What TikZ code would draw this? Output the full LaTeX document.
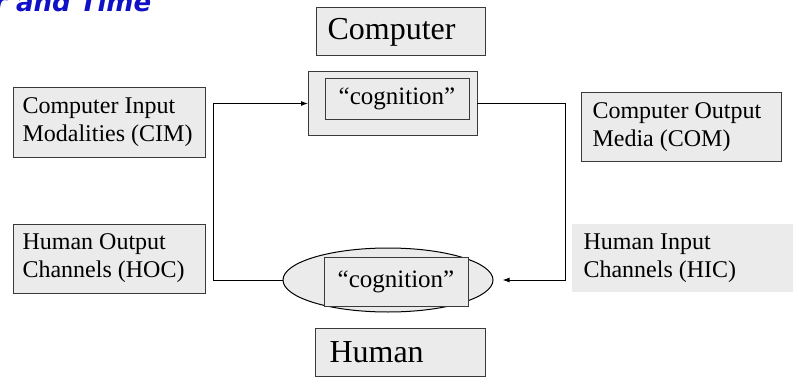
\documentclass[tikz,border=0pt]{standalone}
\usepackage{fontspec}
\setmainfont{Liberation Serif}
\newfontfamily\titlefont{DejaVu Sans}
\usetikzlibrary{arrows.meta}
\usetikzlibrary{shapes.geometric}
\definecolor{boxgray}{HTML}{EBEBEB}
\definecolor{edgegray}{HTML}{3A3A3A}
\definecolor{titleblue}{HTML}{1010C8}

\begin{document}
\begin{tikzpicture}[x=1pt, y=-1pt,
		greybox/.style={draw=edgegray, line width=1pt, fill=boxgray, inner sep=0pt, outer sep=0pt},
		sidetext/.style={font=\fontsize{24}{28}\selectfont, align=left},
		bigtext/.style={font=\fontsize{32}{36}\selectfont},
		cogtext/.style={font=\fontsize{25}{28}\selectfont},
		arr/.style={-{Latex[length=7pt,width=5pt]}, line width=1pt}]
			\useasboundingbox (0,0) rectangle (794,377);
			% cut-off slide title
			\node [anchor=base west, inner sep=0pt, text=titleblue, font=\titlefont\bfseries\itshape\fontsize{26}{30}\selectfont] (title) at (-6, 12) {r and Time};
			% computer side
			\node [greybox, minimum width=169, minimum height=48] (computer) at (400.5, 32) {};
			\node [bigtext, anchor=west] (computertxt) at (324, 32) {Computer};
			\node [greybox, minimum width=169, minimum height=63] (compmind) at (392.5, 103.5) {};
			\node [greybox, minimum width=144, minimum height=40, cogtext] (compcog) at (397, 99) {``cognition''};
			% human side
			\node [ellipse, draw=black, line width=1pt, fill=boxgray, minimum width=210, minimum height=64, inner sep=0pt] (humanmind) at (388, 280) {};
			\node [greybox, minimum width=144, minimum height=49, cogtext] (humancog) at (396, 281.5) {``cognition''};
			\node [greybox, minimum width=170, minimum height=48] (human) at (400, 352) {};
			\node [bigtext, anchor=west] (humantxt) at (326, 352) {Human};
			% side boxes
			\node [greybox, minimum width=192, minimum height=69] (cim) at (109, 122.5) {};
			\node [sidetext, anchor=west] (cimtxt) at (19, 122.5) {Computer Input\\Modalities (CIM)};
			\node [greybox, minimum width=192, minimum height=69] (hoc) at (109, 258.5) {};
			\node [sidetext, anchor=west] (hoctxt) at (19, 258.5) {Human Output\\Channels (HOC)};
			\node [greybox, minimum width=200, minimum height=68] (com) at (681, 127) {};
			\node [sidetext, anchor=west] (comtxt) at (589, 127) {Computer Output\\Media (COM)};
			\node [greybox, draw=none, minimum width=221, minimum height=68] (hic) at (682.5, 258) {};
			\node [sidetext, anchor=west] (hictxt) at (580, 258) {Human Input\\Channels (HIC)};
			% loop
			\coordinate (lturn) at (213, 280);
			\coordinate (rturn) at (565, 103.5);
			\draw [arr] (humanmind.west) -- (lturn) |- (compmind.west);
			\draw [arr, shorten >=9pt] (compmind.east) -- (rturn) |- (humanmind.east);
	\end{tikzpicture}
\end{document}
